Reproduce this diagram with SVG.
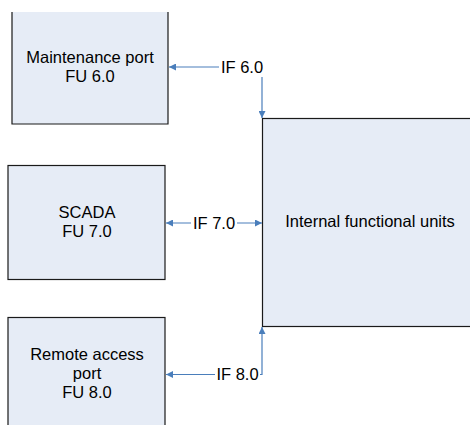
<svg xmlns="http://www.w3.org/2000/svg" width="470" height="425" viewBox="0 0 470 425">
<style>
.box{fill:#E6ECF6;stroke:#1a1a1a;stroke-width:1.2}
.edge{fill:#E6ECF6;stroke:none}
.t{font-family:"Liberation Sans",Arial,sans-serif;font-size:16.5px;fill:#000;text-anchor:middle}
.c{fill:none;stroke:#4A7EBB;stroke-width:1.2}
.lbg{fill:#fff}
</style>
<defs>
<marker id="ah" viewBox="0 0 10 10" refX="10" refY="5" markerWidth="7" markerHeight="7" markerUnits="userSpaceOnUse" orient="auto-start-reverse">
<path d="M0,0 L10,5 L0,10 z" fill="#4A7EBB"/>
</marker>
</defs>
<rect width="470" height="425" fill="#fff"/>
<g id="maintenance">
<rect class="edge" x="12" y="12" width="156" height="112"/>
<path d="M12,12 V124 H168 V12" fill="none" stroke="#1a1a1a" stroke-width="1.2"/>
<text class="t" x="90" y="63">Maintenance port</text>
<text class="t" x="90" y="82">FU 6.0</text>
</g>
<g id="scada">
<rect class="box" x="8" y="165.5" width="157" height="114"/>
<text class="t" x="87" y="218">SCADA</text>
<text class="t" x="87" y="237">FU 7.0</text>
</g>
<g id="remote">
<rect class="box" x="8" y="317.5" width="157" height="120"/>
<text class="t" x="87" y="360">Remote access</text>
<text class="t" x="87" y="379">port</text>
<text class="t" x="87" y="398">FU 8.0</text>
</g>
<g id="internal">
<rect class="box" x="262.5" y="118.5" width="220" height="208"/>
<text class="t" x="370" y="227">Internal functional units</text>
</g>
<g id="connectors">
<path class="c" d="M262,67 H169" marker-end="url(#ah)"/>
<path class="c" d="M262,67 V118" marker-end="url(#ah)"/>
<rect class="lbg" x="219" y="57" width="47" height="20"/>
<text class="t" x="242" y="73">IF 6.0</text>
<path class="c" d="M166,223 H262" marker-start="url(#ah)" marker-end="url(#ah)"/>
<rect class="lbg" x="191" y="213" width="46" height="20"/>
<text class="t" x="214" y="229">IF 7.0</text>
<path class="c" d="M262,327 V374.5 H166" marker-start="url(#ah)" marker-end="url(#ah)"/>
<rect class="lbg" x="215" y="364" width="45" height="20"/>
<text class="t" x="237.5" y="380">IF 8.0</text>
</g>
</svg>
